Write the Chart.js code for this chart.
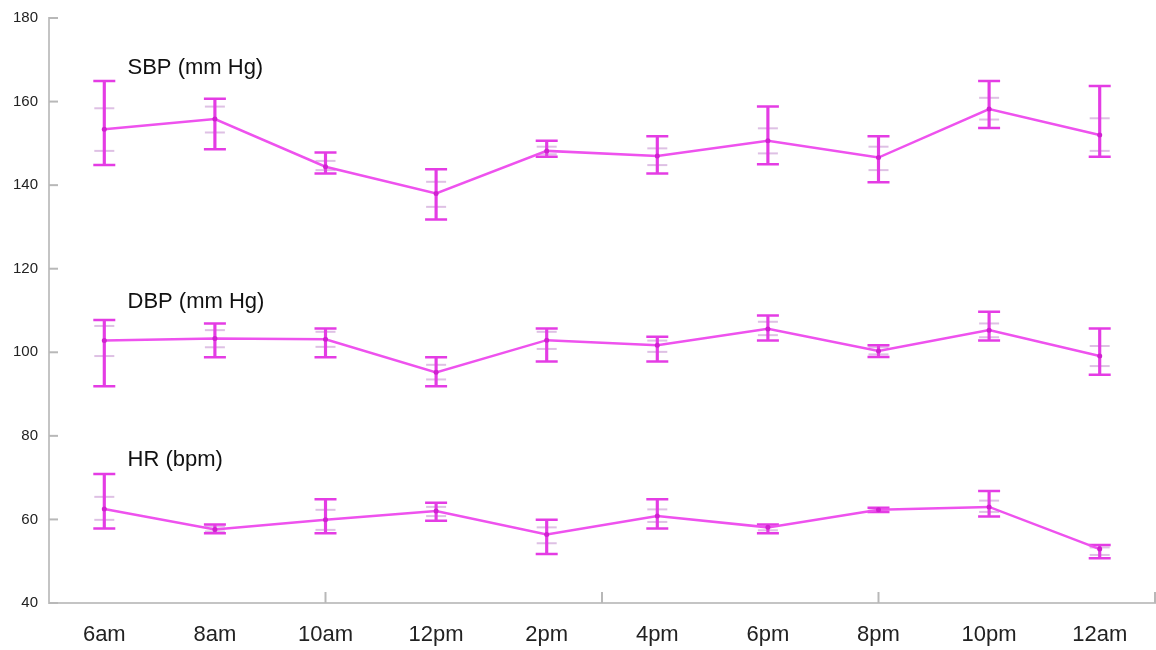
<!DOCTYPE html>
<html lang="en">
<head>
  <meta charset="utf-8">
  <title>SBP, DBP and HR over the day</title>
  <style>
    * { margin: 0; padding: 0; }
    html, body { background: #fff; overflow: hidden; }
    #wrap { position: relative; width: 1156px; height: 650px; }
  </style>
</head>
<body>
  <div id="wrap"><canvas id="bpChart"></canvas></div>

  <script src="https://cdn.jsdelivr.net/npm/chart.js@4.4.1/dist/chart.umd.min.js"></script>
  <script>
    // categories
    const hours = ['6am', '8am', '10am', '12pm', '2pm', '4pm', '6pm', '8pm', '10pm', '12am'];

    // systolic blood pressure (mm Hg)
    const sbpMean      = [153.4, 155.8, 144.4, 138.0, 148.2, 147.0, 150.6, 146.6, 158.2, 152.0];
    const sbpHigh      = [164.9, 160.7, 147.8, 143.8, 150.6, 151.7, 158.8, 151.7, 164.9, 163.7];
    const sbpLow       = [144.8, 148.6, 142.8, 131.8, 146.8, 142.8, 145.0, 140.7, 153.7, 146.8];
    const sbpInnerHigh = [158.4, 158.8, 145.8, 140.8, 149.2, 148.8, 153.6, 149.2, 160.9, 156.0];
    const sbpInnerLow  = [148.2, 152.6, 143.6, 134.8, 147.4, 144.8, 147.6, 143.6, 155.7, 148.2];

    // diastolic blood pressure (mm Hg)
    const dbpMean      = [102.8, 103.3, 103.1, 95.2, 102.9, 101.7, 105.6, 100.3, 105.3, 99.1];
    const dbpHigh      = [107.7, 106.9, 105.7, 98.8, 105.7, 103.7, 108.8, 101.7, 109.7, 105.7];
    const dbpLow       = [91.9, 98.8, 98.8, 91.9, 97.8, 97.8, 102.8, 98.9, 102.8, 94.6];
    const dbpInnerHigh = [106.3, 105.3, 104.9, 97.0, 104.9, 102.8, 107.3, 101.2, 106.9, 101.5];
    const dbpInnerLow  = [99.1, 101.2, 101.3, 93.5, 100.8, 100.1, 104.1, 99.5, 103.6, 96.7];

    // heart rate (bpm)
    const hrMean      = [62.5, 57.6, 59.9, 62.0, 56.4, 60.8, 58.1, 62.3, 63.0, 52.9];
    const hrHigh      = [70.9, 58.8, 64.8, 64.0, 59.9, 64.8, 58.8, 62.8, 66.8, 53.9];
    const hrLow       = [57.8, 56.7, 56.7, 59.7, 51.7, 57.8, 56.7, 61.8, 60.7, 50.7];
    const hrInnerHigh = [65.4, 58.3, 62.3, 63.0, 58.1, 62.4, 58.4, 62.6, 64.5, 53.3];
    const hrInnerLow  = [59.9, 57.1, 57.5, 60.8, 54.3, 59.4, 57.4, 62.0, 61.8, 51.5];

    // series labels written inside the plot, and y ticks
    const seriesNames = ['SBP (mm Hg)', 'DBP (mm Hg)', 'HR (bpm)'];
    const yTicks = [40, 60, 80, 100, 120, 140, 160, 180];

    const LINE = '#ee52ee';
    const BAR = '#e43ce4';
    const FAINT = 'rgba(195, 140, 205, 0.55)';
    const AXIS = '#c4c4c4';

    Chart.defaults.font.family = '"Liberation Sans", Arial, sans-serif';
    Chart.defaults.color = '#222';

    function caps(values, color, radius, width, order) {
      return {
        type: 'line',
        data: values,
        showLine: false,
        pointStyle: 'line',
        pointRadius: radius,
        pointHoverRadius: radius,
        pointBorderColor: color,
        pointBorderWidth: width,
        order: order
      };
    }

    function seriesSets(mean, high, low, innerHigh, innerLow) {
      return [
        {
          type: 'line',
          data: mean,
          borderColor: LINE,
          borderWidth: 2.5,
          pointRadius: 2.5,
          pointBackgroundColor: '#d020d0',
          pointBorderWidth: 0,
          tension: 0,
          order: 0
        },
        {
          type: 'bar',
          data: low.map((v, i) => [v, high[i]]),
          backgroundColor: BAR,
          barThickness: 2.5,
          grouped: false,
          order: 2
        },
        caps(high, BAR, 11, 2.5, 1),
        caps(low, BAR, 11, 2.5, 1),
        caps(innerHigh, FAINT, 10, 2, 3),
        caps(innerLow, FAINT, 10, 2, 3)
      ];
    }

    // inward tick marks and in-plot series names
    const overlay = {
      id: 'overlay',
      afterDraw(chart) {
        const { ctx, chartArea: a, scales: { x, y } } = chart;
        ctx.save();
        ctx.strokeStyle = '#b8b8b8';
        ctx.lineWidth = 2;
        yTicks.forEach(v => {
          const py = y.getPixelForValue(v);
          ctx.beginPath(); ctx.moveTo(a.left, py); ctx.lineTo(a.left + 9, py); ctx.stroke();
        });
        [2, 4.5, 7, 9.5].forEach(v => {
          const px = x.getPixelForValue(v);
          ctx.beginPath(); ctx.moveTo(px, a.bottom); ctx.lineTo(px, a.bottom - 11); ctx.stroke();
        });

        ctx.fillStyle = '#111';
        ctx.font = '22px "Liberation Sans", Arial, sans-serif';
        ctx.textBaseline = 'alphabetic';
        const nameY = [166.6, 110.6, 72.8];
        seriesNames.forEach((n, i) => {
          ctx.fillText(n, x.getPixelForValue(0.21), y.getPixelForValue(nameY[i]));
        });
        ctx.restore();
      }
    };

    new Chart(document.getElementById('bpChart'), {
      data: {
        labels: hours,
        datasets: [
          ...seriesSets(sbpMean, sbpHigh, sbpLow, sbpInnerHigh, sbpInnerLow),
          ...seriesSets(dbpMean, dbpHigh, dbpLow, dbpInnerHigh, dbpInnerLow),
          ...seriesSets(hrMean, hrHigh, hrLow, hrInnerHigh, hrInnerLow)
        ]
      },
      options: {
        responsive: true,
        maintainAspectRatio: false,
        animation: false,
        layout: { autoPadding: false, padding: { left: 13, right: 1, top: 18, bottom: 2 } },
        plugins: {
          legend: { display: false },
          tooltip: { enabled: false }
        },
        scales: {
          x: {
            type: 'category',
            offset: true,
            grid: { display: false, drawTicks: false },
            border: { display: true, color: AXIS, width: 2 },
            ticks: { font: { size: 22 }, color: '#222', padding: 19, maxRotation: 0 },
            afterFit: s => { s.height = 45; s.paddingLeft = 0; s.paddingRight = 0; }
          },
          y: {
            min: 40,
            max: 180,
            grid: { display: false, drawTicks: false },
            border: { display: true, color: AXIS, width: 2 },
            ticks: { stepSize: 20, font: { size: 15 }, color: '#222', padding: 11 },
            afterFit: s => { s.width = 36; s.paddingTop = 0; s.paddingBottom = 0; }
          }
        }
      },
      plugins: [overlay]
    });
  </script>
</body>
</html>
